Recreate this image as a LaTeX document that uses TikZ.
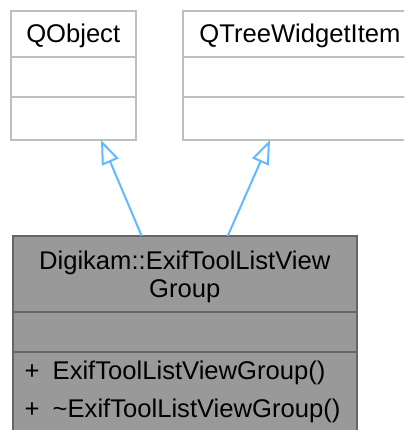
\documentclass[tikz,border=0pt]{standalone}
\usepackage{fontspec}
\setmainfont{Liberation Sans}
\usetikzlibrary{arrows.meta, positioning}
\definecolor{edgeblue}{HTML}{63B8FF}
\definecolor{boxgrey}{HTML}{BFBFBF}
\definecolor{mainfill}{HTML}{999999}
\definecolor{mainline}{HTML}{666666}

\begin{document}
\begin{tikzpicture}[
  x=1pt, y=1pt,
  every node/.style={font=\fontsize{25.6}{28}\selectfont, outer sep=0pt, inner sep=0pt},
  parentbox/.style={draw=boxgrey, fill=white, line width=2pt, rectangle},
  classbox/.style={draw=mainline, fill=mainfill, line width=2pt, rectangle, minimum width=344pt},
  inherit/.style={draw=edgeblue, line width=2pt, -{Triangle[open, length=24pt, width=18pt]}}
]
  \useasboundingbox (0,0) rectangle (404,-430);
  \clip (0,0) rectangle (404,-430);

  % base classes
  \node[parentbox, minimum width=125pt, minimum height=46pt, text depth=0pt, anchor=north west] (qobject) at (10.7,-10.7) {QObject};
  \node[parentbox, minimum width=125pt, minimum height=40pt, below=0pt of qobject] (qobjectattr) {};
  \node[parentbox, minimum width=125pt, minimum height=43.3pt, below=0pt of qobjectattr] (qobjectops) {};

  \node[parentbox, minimum width=234pt, minimum height=46pt, text depth=0pt, anchor=north west] (qtree) at (183,-10.7) {QTreeWidgetItem};
  \node[parentbox, minimum width=234pt, minimum height=40pt, below=0pt of qtree] (qtreeattr) {};
  \node[parentbox, minimum width=234pt, minimum height=43.3pt, below=0pt of qtreeattr] (qtreeops) {};

  % derived class
  \node[classbox, minimum height=75.7pt, text depth=0pt, align=center, anchor=north west] (group) at (12.7,-236) {Digikam::ExifToolListView\\Group};
  \node[classbox, minimum height=40pt, below=0pt of group] (groupattr) {};
  \node[classbox, below=0pt of groupattr, inner xsep=12pt, inner ysep=9.6pt, text width=320pt, align=left,
        font=\fontsize{25.6}{38}\selectfont] (groupops)
    {\makebox[28pt][l]{+}ExifToolListViewGroup()\\\makebox[28pt][l]{+}\textasciitilde ExifToolListViewGroup()};

  % inheritance
  \draw[inherit] ([xshift=-43pt]group.north) -- ([xshift=27.8pt]qobjectops.south);
  \draw[inherit] ([xshift=43pt]group.north) -- ([xshift=-30pt]qtreeops.south);
\end{tikzpicture}
\end{document}
